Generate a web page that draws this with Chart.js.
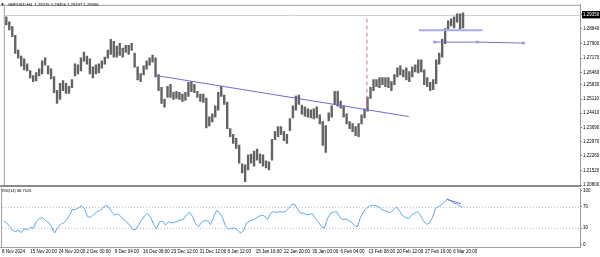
<!DOCTYPE html>
<html>
<head>
<meta charset="utf-8">
<script src="https://cdn.jsdelivr.net/npm/chart.js@4.4.1/dist/chart.umd.min.js"></script>
<style>
  html, body { margin: 0; padding: 0; background: #fff; }
  #wrap { position: relative; width: 600px; height: 257px; overflow: hidden; }
  #priceChart { position: absolute; left: 0; top: 0; }
  #rsiChart { position: absolute; left: 0; top: 186px; }
</style>
</head>
<body>
<div id="wrap">
  <canvas id="priceChart" width="600" height="192"></canvas>
  <canvas id="rsiChart" width="600" height="71"></canvas>
</div>
<script>
"use strict";

// 1: data
// every slot below is a small bunch of H4 candles (high / low)
const symbolTitle = 'GBPUSD,H4  1.29215 1.29456 1.29197 1.29356';
const lastPrice = 1.29356;
const rsiTitle = 'RSI(14) 68.7526';

const priceHigh = [
  1.2926, 1.2902, 1.2877, 1.2833, 1.2759, 1.2729, 1.2715, 1.2690, 1.2656, 1.2631,
  1.2646, 1.2665, 1.2705, 1.2720, 1.2680, 1.2665, 1.2626, 1.2557, 1.2592, 1.2606,
  1.2592, 1.2577, 1.2611, 1.2690, 1.2685, 1.2720, 1.2749, 1.2729, 1.2715, 1.2675,
  1.2685, 1.2690, 1.2705, 1.2724, 1.2759, 1.2813, 1.2803, 1.2779, 1.2793, 1.2769,
  1.2783, 1.2783, 1.2793, 1.2744, 1.2675, 1.2641, 1.2680, 1.2705, 1.2720, 1.2734,
  1.2720, 1.2636, 1.2572, 1.2513, 1.2577, 1.2587, 1.2547, 1.2552, 1.2547, 1.2538,
  1.2547, 1.2597, 1.2601, 1.2587, 1.2552, 1.2538, 1.2538, 1.2518, 1.2424, 1.2439,
  1.2479, 1.2547, 1.2577, 1.2533, 1.2498, 1.2365, 1.2336, 1.2316, 1.2282, 1.2188,
  1.2183, 1.2233, 1.2237, 1.2252, 1.2262, 1.2237, 1.2233, 1.2203, 1.2198, 1.2311,
  1.2351, 1.2375, 1.2375, 1.2351, 1.2336, 1.2415, 1.2479, 1.2528, 1.2533, 1.2483,
  1.2474, 1.2464, 1.2459, 1.2464, 1.2474, 1.2434, 1.2400, 1.2380, 1.2444, 1.2479,
  1.2552, 1.2552, 1.2503, 1.2479, 1.2439, 1.2400, 1.2390, 1.2375, 1.2390, 1.2434,
  1.2464, 1.2523, 1.2572, 1.2611, 1.2611, 1.2621, 1.2621, 1.2621, 1.2621, 1.2601,
  1.2636, 1.2670, 1.2680, 1.2660, 1.2670, 1.2651, 1.2675, 1.2685, 1.2710, 1.2710,
  1.2660, 1.2621, 1.2597, 1.2611, 1.2710, 1.2744, 1.2813, 1.2867, 1.2907, 1.2916,
  1.2926, 1.2941, 1.2941, 1.2946
];
const priceLow = [
  1.2882, 1.2857, 1.2823, 1.2739, 1.2715, 1.2675, 1.2656, 1.2651, 1.2616, 1.2597,
  1.2601, 1.2626, 1.2636, 1.2680, 1.2636, 1.2611, 1.2542, 1.2488, 1.2508, 1.2552,
  1.2538, 1.2538, 1.2567, 1.2626, 1.2636, 1.2651, 1.2700, 1.2685, 1.2636, 1.2616,
  1.2636, 1.2641, 1.2665, 1.2685, 1.2715, 1.2734, 1.2720, 1.2720, 1.2729, 1.2720,
  1.2744, 1.2734, 1.2754, 1.2670, 1.2606, 1.2597, 1.2631, 1.2660, 1.2680, 1.2695,
  1.2621, 1.2552, 1.2488, 1.2469, 1.2518, 1.2518, 1.2508, 1.2513, 1.2508, 1.2498,
  1.2503, 1.2523, 1.2547, 1.2542, 1.2518, 1.2498, 1.2493, 1.2365, 1.2375, 1.2395,
  1.2419, 1.2454, 1.2523, 1.2483, 1.2361, 1.2321, 1.2287, 1.2262, 1.2188, 1.2139,
  1.2095, 1.2154, 1.2188, 1.2173, 1.2203, 1.2188, 1.2173, 1.2164, 1.2154, 1.2203,
  1.2306, 1.2321, 1.2331, 1.2301, 1.2287, 1.2351, 1.2415, 1.2454, 1.2483, 1.2434,
  1.2424, 1.2419, 1.2415, 1.2410, 1.2415, 1.2385, 1.2277, 1.2242, 1.2400, 1.2419,
  1.2483, 1.2474, 1.2464, 1.2419, 1.2385, 1.2361, 1.2346, 1.2326, 1.2321, 1.2385,
  1.2415, 1.2449, 1.2513, 1.2552, 1.2572, 1.2567, 1.2582, 1.2572, 1.2567, 1.2552,
  1.2582, 1.2621, 1.2631, 1.2621, 1.2606, 1.2597, 1.2621, 1.2646, 1.2641, 1.2646,
  1.2582, 1.2572, 1.2552, 1.2557, 1.2587, 1.2685, 1.2720, 1.2788, 1.2862, 1.2877,
  1.2867, 1.2897, 1.2862, 1.2867
];
const rsiValues = [
  44, 40, 34, 26, 24, 26, 22, 29, 27, 32,
  30, 43, 48, 50, 44, 41, 33, 21, 30, 37,
  40, 45, 54, 65, 65, 68, 72, 66, 52, 50,
  55, 60, 63, 67, 73, 70, 61, 54, 57, 53,
  46, 42, 36, 28, 27, 36, 45, 53, 58, 51,
  38, 29, 42, 43, 36, 42, 40, 41, 43, 45,
  47, 55, 60, 52, 39, 33, 41, 44, 44, 37,
  50, 63, 59, 50, 34, 28, 30, 30, 27, 21,
  25, 40, 43, 45, 48, 52, 54, 53, 46, 58,
  61, 59, 61, 60, 61, 67, 74, 75, 66, 58,
  58, 55, 56, 57, 48, 41, 33, 30, 48, 58,
  60, 61, 52, 46, 47, 45, 41, 35, 33, 50,
  61, 67, 71, 73, 72, 70, 66, 63, 61, 59,
  64, 70, 62, 54, 50, 48, 54, 58, 61, 54,
  44, 37, 40, 50, 67, 70, 74, 79, 84, 81,
  77, 76, 72, 69
];

// axis labels
const priceTicks = [1.28640, 1.27900, 1.27170, 1.26460, 1.25830, 1.25110,
  1.24410, 1.23690, 1.22970, 1.22260, 1.21520, 1.20800];
const rsiTicks = [100, 70, 30, 0];
const rsiLevels = [70, 30];
const timeLabels = ['8 Nov 2024', '15 Nov 20:00', '24 Nov 20:00', '2 Dec 00:00',
  '9 Dec 04:00', '16 Dec 08:00', '23 Dec 12:00', '31 Dec 12:00', '8 Jan 12:00',
  '15 Jan 16:00', '22 Jan 20:00', '30 Jan 00:00', '6 Feb 04:00', '13 Feb 08:00',
  '20 Feb 12:00', '27 Feb 16:00', '6 Mar 20:00'];
const slotsPerLabel = 9.4;   // slots between two time labels

// drawn objects (slot index, price)
const trendX = [49.8, 134.8];
const trendY = [1.2631, 1.2424];
const zoneX = [138.2, 159.5];
const zoneY = [1.2857, 1.2857];
const levelX = [143.5, 157.8, 173.2];
const levelY = [1.2798, 1.2798, 1.2793];
const markerX = [120.8, 120.8];
const markerY = [1.2916, 1.2459];
const rsiTrendX = [147.7, 152.5];
const rsiTrendY = [84.3, 75.5];

// 2: helpers
function toPoints(xs, ys) {
  return xs.map((x, i) => ({ x: x, y: ys[i] }));
}

const X_MIN = -0.5;
const X_MAX = 192.17;
const FONT = "'Liberation Sans', Arial, sans-serif";

Chart.defaults.font.family = FONT;
Chart.defaults.font.size = 4.5;
Chart.defaults.color = '#000';
Chart.defaults.animation = false;

function noPad(scale) {
  scale.paddingLeft = 0;
  scale.paddingRight = 0;
  scale.paddingTop = 0;
  scale.paddingBottom = 0;
}

// frame, bid line and header text of the price window
const priceFrame = {
  id: 'priceFrame',
  beforeDatasetsDraw(chart) {
    const { ctx, chartArea: a, scales } = chart;
    const y = Math.round(scales.y.getPixelForValue(lastPrice)) + 0.5;
    ctx.save();
    ctx.strokeStyle = '#cfcfcf';
    ctx.lineWidth = 1;
    ctx.beginPath();
    ctx.moveTo(a.left, y);
    ctx.lineTo(a.right, y);
    ctx.stroke();
    ctx.restore();
  },
  afterDraw(chart) {
    const { ctx, chartArea: a } = chart;
    ctx.save();
    ctx.strokeStyle = '#a0a0a0';
    ctx.lineWidth = 1;
    ctx.beginPath();
    ctx.moveTo(0, a.top + 0.5);
    ctx.lineTo(a.right, a.top + 0.5);
    ctx.moveTo(a.left - 0.5, a.top);
    ctx.lineTo(a.left - 0.5, a.bottom);
    ctx.stroke();
    ctx.fillStyle = '#8a8a8a';
    ctx.fillRect(0, a.bottom, a.right + 1, 2);
    ctx.fillStyle = '#000';
    ctx.beginPath();
    ctx.moveTo(1, 3.5);
    ctx.lineTo(4, 3.5);
    ctx.lineTo(2.5, 5.5);
    ctx.closePath();
    ctx.fill();
    ctx.font = '4.2px ' + FONT;
    ctx.textBaseline = 'middle';
    ctx.fillText(symbolTitle, 8, 5);
    ctx.restore();
  }
};

// frame, 30/70 levels and header text of the RSI window
const rsiFrame = {
  id: 'rsiFrame',
  beforeDatasetsDraw(chart) {
    const { ctx, chartArea: a, scales } = chart;
    ctx.save();
    ctx.strokeStyle = '#c4c4c4';
    ctx.lineWidth = 1;
    ctx.setLineDash([1, 2]);
    for (const level of rsiLevels) {
      const y = Math.round(scales.y.getPixelForValue(level)) + 0.5;
      ctx.beginPath();
      ctx.moveTo(a.left, y);
      ctx.lineTo(a.right, y);
      ctx.stroke();
    }
    ctx.restore();
  },
  afterDraw(chart) {
    const { ctx, chartArea: a } = chart;
    ctx.save();
    ctx.strokeStyle = '#a0a0a0';
    ctx.lineWidth = 1;
    ctx.beginPath();
    ctx.moveTo(a.left - 0.5, a.top);
    ctx.lineTo(a.left - 0.5, a.bottom);
    ctx.moveTo(0, a.bottom + 0.5);
    ctx.lineTo(a.right, a.bottom + 0.5);
    ctx.stroke();
    ctx.fillStyle = '#000';
    ctx.font = '4px ' + FONT;
    ctx.textBaseline = 'middle';
    ctx.fillText(rsiTitle, 2, 5);
    ctx.restore();
  }
};

// 3: price window
const candleSlots = priceHigh.map((h, i) => ({ x: i, y: [priceLow[i], h] }));

new Chart(document.getElementById('priceChart'), {
  type: 'bar',
  data: {
    datasets: [
      {
        type: 'line',
        data: toPoints(trendX, trendY),
        borderColor: '#6c6cd8',
        borderWidth: 1,
        pointRadius: 0,
        order: 0
      },
      {
        type: 'line',
        data: toPoints(zoneX, zoneY),
        borderColor: '#a9a9ef',
        borderWidth: 2,
        pointRadius: 0,
        order: 0
      },
      {
        type: 'line',
        data: toPoints(levelX, levelY),
        borderColor: '#7474d4',
        borderWidth: 1,
        pointStyle: 'rect',
        pointRadius: 1.3,
        pointBorderWidth: 0.8,
        pointBorderColor: '#7474d4',
        pointBackgroundColor: '#fff',
        order: 0
      },
      {
        type: 'line',
        data: toPoints(markerX, markerY),
        borderColor: '#e07070',
        borderWidth: 1,
        borderDash: [4, 3],
        pointRadius: 0,
        order: 0
      },
      {
        data: candleSlots,
        backgroundColor: '#636363',
        borderWidth: 0,
        barPercentage: 0.8,
        categoryPercentage: 1,
        order: 1
      }
    ]
  },
  options: {
    responsive: false,
    events: [],
    layout: { padding: { left: 2, top: 1, right: 0, bottom: 7 } },
    plugins: { legend: { display: false }, tooltip: { enabled: false } },
    scales: {
      x: {
        type: 'linear',
        display: false,
        offset: false,
        min: X_MIN,
        max: X_MAX
      },
      y: {
        position: 'right',
        min: 1.208,
        max: 1.29853,
        afterBuildTicks: (scale) => {
          scale.ticks = [lastPrice].concat(priceTicks).map(v => ({ value: v }));
        },
        afterFit: (scale) => {
          scale.width = 20;
          noPad(scale);
        },
        border: { display: true, color: '#9a9a9a' },
        grid: { drawOnChartArea: false, drawTicks: true, tickLength: 2, color: '#7a7a7a' },
        ticks: {
          autoSkip: false,
          crossAlign: 'near',
          padding: 1,
          color: (c) => c.tick && c.tick.value === lastPrice ? '#fff' : '#000',
          showLabelBackdrop: (c) => c.tick && c.tick.value === lastPrice,
          backdropColor: '#000',
          backdropPadding: { x: 1, y: 1 },
          callback: (value) => value.toFixed(5)
        }
      }
    }
  },
  plugins: [priceFrame]
});

// 4: RSI window with the time axis
new Chart(document.getElementById('rsiChart'), {
  type: 'line',
  data: {
    datasets: [
      {
        data: toPoints(rsiTrendX, rsiTrendY),
        borderColor: '#7a6fd6',
        borderWidth: 1,
        pointRadius: 0
      },
      {
        data: rsiValues.map((v, i) => ({ x: i, y: v })),
        borderColor: '#5aa7ef',
        borderWidth: 1,
        pointRadius: 0,
        tension: 0
      }
    ]
  },
  options: {
    responsive: false,
    events: [],
    layout: { padding: { left: 2, top: 2, right: 0, bottom: 0 } },
    plugins: { legend: { display: false }, tooltip: { enabled: false } },
    scales: {
      x: {
        type: 'linear',
        offset: false,
        min: X_MIN,
        max: X_MAX,
        afterBuildTicks: (scale) => {
          scale.ticks = timeLabels.map((t, k) => ({ value: k * slotsPerLabel + X_MIN }));
        },
        afterFit: (scale) => {
          scale.height = 10;
          noPad(scale);
        },
        border: { display: false },
        grid: { display: false, drawTicks: false },
        ticks: {
          autoSkip: false,
          maxRotation: 0,
          align: 'start',
          padding: 2,
          callback: (value, index) => timeLabels[index]
        }
      },
      y: {
        position: 'right',
        min: -5,
        max: 105,
        afterBuildTicks: (scale) => {
          scale.ticks = rsiTicks.map(v => ({ value: v }));
        },
        afterFit: (scale) => {
          scale.width = 20;
          noPad(scale);
        },
        border: { display: true, color: '#9a9a9a' },
        grid: { drawOnChartArea: false, drawTicks: true, tickLength: 2, color: '#7a7a7a' },
        ticks: {
          autoSkip: false,
          crossAlign: 'near',
          padding: 1
        }
      }
    }
  },
  plugins: [rsiFrame]
});
</script>
</body>
</html>
